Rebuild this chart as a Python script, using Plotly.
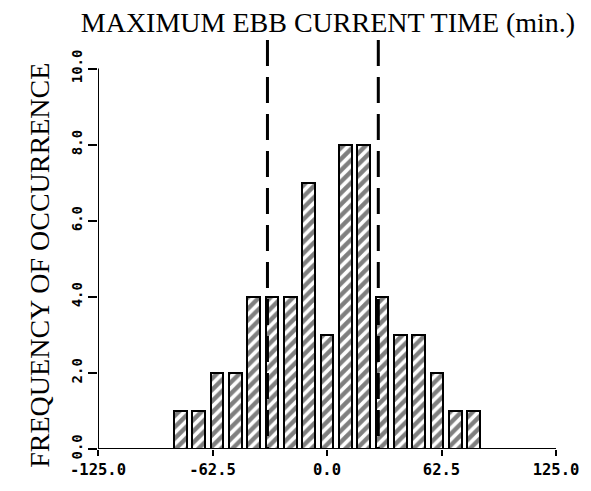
import plotly.graph_objects as go

# Histogram of maximum ebb current time (minutes), 10-minute bins
bin_centers = [-80, -70, -60, -50, -40, -30, -20, -10, 0, 10, 20, 30, 40, 50, 60, 70, 80]
counts = [1, 1, 2, 2, 4, 4, 4, 7, 3, 8, 8, 4, 3, 3, 2, 1, 1]

# Dashed reference limits (minutes)
limit_lines = [-32.5, 28.0]

x_ticks = [-125.0, -62.5, 0.0, 62.5, 125.0]
x_tick_text = ["-125.0", "-62.5", "0.0", "62.5", "125.0"]
y_ticks = [0, 2, 4, 6, 8, 10]
y_tick_text = ["0.0", "2.0", "4.0", "6.0", "8.0", "10.0"]

X_RANGE = [-125, 125]
Y_RANGE = [0, 10.75]

serif = "Liberation Serif"
mono = "DejaVu Sans Mono"

fig = go.Figure()

fig.add_trace(go.Bar(
    x=bin_centers,
    y=counts,
    width=7,
    marker=dict(
        color="white",
        line=dict(color="black", width=2),
        pattern=dict(shape="/", fgcolor="black", bgcolor="white", size=8, solidity=0.55),
    ),
    showlegend=False,
    hoverinfo="x+y",
))

shapes = []
# axis lines: x spans the full range, y stops at the top tick
shapes.append(dict(type="line", xref="x", yref="y", x0=X_RANGE[0], x1=X_RANGE[1], y0=0, y1=0,
                   line=dict(color="black", width=2)))
shapes.append(dict(type="line", xref="x", yref="y", x0=X_RANGE[0], x1=X_RANGE[0], y0=0, y1=y_ticks[-1],
                   line=dict(color="black", width=2)))
for xv in limit_lines:
    shapes.append(dict(type="line", xref="x", yref="y", x0=xv, x1=xv, y0=Y_RANGE[1], y1=0,
                       line=dict(color="black", width=3, dash="26px,11px")))

fig.update_layout(
    width=591,
    height=491,
    margin=dict(l=98, r=31, t=40, b=29),
    paper_bgcolor="white",
    plot_bgcolor="white",
    bargap=0,
    shapes=shapes,
    title=dict(
        text="MAXIMUM EBB CURRENT TIME (min.)",
        font=dict(family=serif, size=28, color="black"),
        x=(330 - 98) / 462, xref="paper", xanchor="center",
        y=1 - 22 / 491, yref="container", yanchor="middle",
    ),
    annotations=[dict(
        text="FREQUENCY OF OCCURRENCE",
        xref="paper", yref="paper",
        x=-0.128, y=0.449, xanchor="center", yanchor="middle",
        textangle=-90, showarrow=False,
        font=dict(family=serif, size=28, color="black"),
    )],
    xaxis=dict(
        range=X_RANGE,
        tickmode="array", tickvals=x_ticks, ticktext=x_tick_text,
        ticks="outside", ticklen=6, tickwidth=2, tickcolor="black",
        showgrid=False, zeroline=False, showline=False,
        tickfont=dict(family=mono, size=15.5, color="black", weight="bold"),
    ),
    yaxis=dict(
        range=Y_RANGE,
        tickmode="array", tickvals=y_ticks, ticktext=y_tick_text,
        ticks="outside", ticklen=9, tickwidth=2, tickcolor="black",
        tickangle=-90,
        showgrid=False, zeroline=False, showline=False,
        tickfont=dict(family=mono, size=14, color="black", weight="bold"),
    ),
)

fig.write_html("out.html")
